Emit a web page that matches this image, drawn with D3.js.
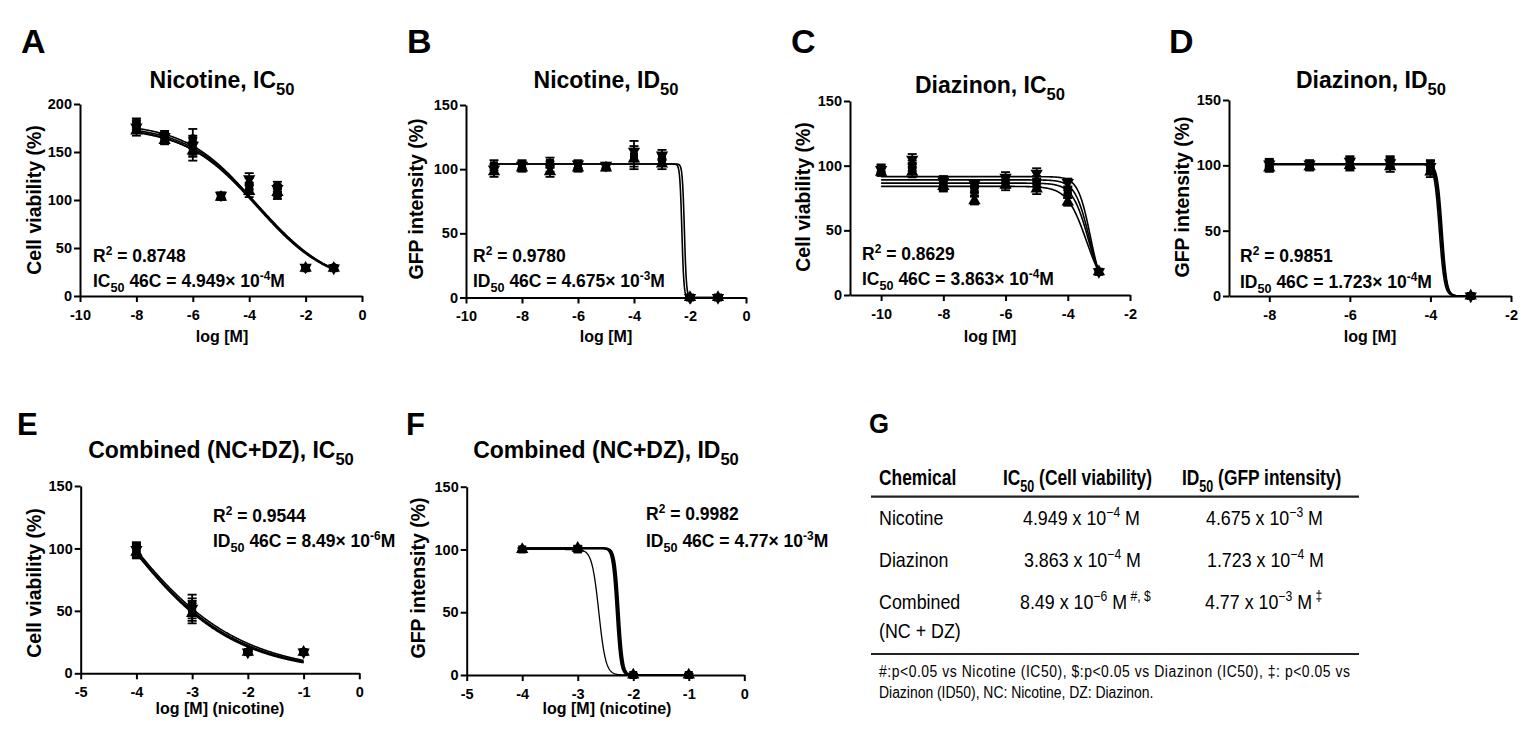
<!DOCTYPE html>
<html><head><meta charset="utf-8">
<script src="https://cdn.jsdelivr.net/npm/d3@7"></script>
<style>
html,body{margin:0;padding:0;background:#fff;}
svg{display:block;}
text{font-family:"Liberation Sans",Arial,sans-serif;fill:#000;}
</style></head>
<body>
<svg id="chart" width="1535" height="732"></svg>
<script>
// ---------------- DATA ----------------
// Panel A: Nicotine, IC50 (cell viability %)
const xA = [-8, -7, -6, -5, -4, -3, -2, -1];
const aSquare = [180, 168, 155, 104, 112, 105, 29, 29];
const aTriUp = [172, 162, 151, 103, 109, 108, 29, 29];
const aTriDown = [176, 166, 157, 105, 122, 112, 30, 29];
const aCircle = [178, 165, 164, 104, 117, 115, 29, 30];
const aErr = [5, 4, 10, 3, 6, 4, 2, 2];
const aCurves = [[178, 10, -3.69, 0.34], [176, 8, -3.62, 0.33], [180, 12, -3.76, 0.35], [177, 9, -3.72, 0.335]];

// Panel B: Nicotine, ID50 (GFP intensity %)
const xB = [-9, -8, -7, -6, -5, -4, -3, -2, -1];
const bSquare = [103, 104, 105, 103, 102, 110, 108, 0, 0];
const bTriUp = [98, 101, 98, 101, 101, 108, 104, 0, 0];
const bTriDown = [100, 103, 102, 104, 103, 114, 111, 0, 0];
const bErr = [4, 3, 4, 3, 2, 8, 4, 1, 1];
const bCurves = [[104, 0, -2.29, 12], [104, 0, -2.20, 12]];

// Panel C: Diazinon, IC50 (cell viability %)
const xC = [-10, -9, -8, -7, -6, -5, -4, -3];
const cSquare = [98, 100, 87, 82, 88, 85, 80, 18];
const cTriUp = [95, 95, 84, 73, 85, 82, 72, 18];
const cTriDown = [97, 105, 88, 86, 91, 94, 87, 18];
const cCircle = [96, 98, 85, 80, 87, 88, 78, 18];
const cErr = [3, 4, 4, 3, 4, 4, 3, 2];
const cCurves = [[91.5, 0, -3.278, 2.2], [89, 0, -3.313, 1.9], [86.5, 0, -3.342, 1.7], [84, 0, -3.403, 1.4]];

// Panel D: Diazinon, ID50 (GFP intensity %)
const xD = [-8, -7, -6, -5, -4, -3];
const dSquare = [102, 100, 101, 103, 100, 0];
const dTriUp = [98, 99, 100, 99, 95, 0];
const dTriDown = [101, 101, 103, 102, 99, 0];
const dCircle = [100, 100, 102, 101, 97, 0];
const dErr = [3, 3, 4, 4, 4, 1];
const dCurves = [[101, 0, -3.78, 7], [101, 0, -3.75, 7], [101, 0, -3.73, 7], [100.5, 0, -3.71, 7.5]];

// Panel E: Combined (NC+DZ), IC50 (cell viability %)
const xE = [-4, -3, -2, -1];
const eSquare = [100, 55, 17, 17];
const eTriUp = [97, 48, 17, 17];
const eTriDown = [99, 52, 17, 17];
const eCircle = [98, 50, 17, 17];
const eErr = [5, 8, 1, 1];
const eCurves = [[250, 0, -4.49, 0.404], [240, 0, -4.42, 0.42], [260, 0, -4.55, 0.39], [245, 0, -4.46, 0.41]];

// Panel F: Combined (NC+DZ), ID50 (GFP intensity %)
const xF = [-4, -3, -2, -1];
const fSquare = [100, 100, 0, 0];
const fTriUp = [100, 101, 0, 0];
const fErr = [1, 2, 1, 1];
const fCurves = [[100, 0, -2.62, 7], [101, 0, -2.30, 12], [101, 0, -2.28, 12], [101, 0, -2.26, 12]];

// Panel G: table
const tableChemicals = [["Nicotine"], ["Diazinon"], ["Combined", "(NC + DZ)"]];
const tableIC50 = [["4.949 x 10", "\u22124", " M", ""], ["3.863 x 10", "\u22124", " M", ""], ["8.49 x 10", "\u22126", " M", " #, $"]];
const tableID50 = [["4.675 x 10", "\u22123", " M", ""], ["1.723 x 10", "\u22124", " M", ""], ["4.77 x 10", "\u22123", " M", " \u2021"]];
const footnoteLines = ["#:p<0.05 vs Nicotine (IC50), $:p<0.05 vs Diazinon (IC50), \u2021: p<0.05 vs", "Diazinon (ID50), NC: Nicotine, DZ: Diazinon."];

// ---------------- DRAWING ----------------
const svg = d3.select("#chart");

function rich(g, x, y, parts, size, opts = {}) {
  const t = g.append("text")
    .attr("font-size", size).attr("font-weight", opts.weight || "bold")
    .attr("text-anchor", opts.anchor || "start");
  if (opts.transform) t.attr("transform", opts.transform);
  else if (opts.sx) t.attr("transform", `translate(${x},${y}) scale(${opts.sx},1)`);
  else t.attr("x", x).attr("y", y);
  let shift = 0;
  parts.forEach(p => {
    let target = 0, fs = size;
    if (p.sub) { target = size * 0.3; fs = size * 0.72; }
    if (p.sup) { target = -size * 0.38; fs = size * 0.68; }
    t.append("tspan").attr("dy", target - shift).attr("font-size", fs).text(p.t);
    shift = target;
  });
  return t;
}

const markerTypes = {
  square: d3.symbol().type(d3.symbolSquare).size(64),
  triUp: d3.symbol().type(d3.symbolTriangle).size(66),
  triDown: d3.symbol().type(d3.symbolTriangle).size(66),
  circle: d3.symbol().type(d3.symbolCircle).size(58)
};

function panel(cfg) {
  const g = svg.append("g");
  const x = d3.scaleLinear().domain(cfg.xDomain).range(cfg.xRange);
  const y = d3.scaleLinear().domain(cfg.yDomain).range(cfg.yRange);

  // curves
  const line = d3.line().x(d => x(d[0])).y(d => y(d[1])).curve(d3.curveLinear);
  cfg.curves.forEach((c, i) => {
    const [top, bottom, logEC, hill] = c;
    const n = 400;
    const pts = d3.range(n + 1).map(k => {
      const xv = cfg.curveX[0] + (cfg.curveX[1] - cfg.curveX[0]) * k / n;
      return [xv, bottom + (top - bottom) / (1 + Math.pow(10, (xv - logEC) * hill))];
    });
    g.append("path").attr("d", line(pts)).attr("fill", "none").attr("stroke", "#000")
      .attr("stroke-width", cfg.curveWidths ? cfg.curveWidths[i] : 1.6);
  });

  // axes
  const ax = d3.axisBottom(x).tickValues(cfg.xTicks).tickSize(6).tickPadding(7.5).tickSizeOuter(0)
    .tickFormat(d => String(d));
  const ay = d3.axisLeft(y).tickValues(cfg.yTicks).tickSize(6).tickPadding(2).tickSizeOuter(0)
    .tickFormat(d => String(d));
  const gx = g.append("g").attr("transform", `translate(0,${cfg.yRange[0]})`).call(ax);
  const gy = g.append("g").attr("transform", `translate(${cfg.xRange[0]},0)`).call(ay);
  [gx, gy].forEach(a => {
    a.select(".domain").attr("stroke", "#000").attr("stroke-width", 2);
    a.selectAll(".tick line").attr("stroke", "#000").attr("stroke-width", 2);
    a.selectAll(".tick text").attr("font-size", 14.5).attr("font-weight", "bold")
      .attr("font-family", '"Liberation Sans",Arial,sans-serif').attr("fill", "#000");
  });

  // error bars + markers
  cfg.series.forEach(s => {
    cfg.xs.forEach((xv, i) => {
      const v = s.values[i], e = s.err[i];
      const px = x(xv);
      g.append("line").attr("x1", px).attr("x2", px).attr("y1", y(v - e)).attr("y2", y(v + e))
        .attr("stroke", "#000").attr("stroke-width", 1.8);
      [v - e, v + e].forEach(ev => g.append("line").attr("x1", px - 4.5).attr("x2", px + 4.5)
        .attr("y1", y(ev)).attr("y2", y(ev)).attr("stroke", "#000").attr("stroke-width", 1.8));
      g.append("path").attr("d", markerTypes[s.type]())
        .attr("transform", `translate(${px},${y(v)})` + (s.type === "triDown" ? " rotate(180)" : ""))
        .attr("fill", "#000");
    });
  });

  // labels
  rich(g, cfg.letter[1], cfg.letter[2], [{t: cfg.letter[0]}], cfg.letter[3]);
  rich(g, cfg.title[1], cfg.title[2], cfg.title[0], 23, {anchor: "middle"});
  rich(g, 0, 0, [{t: cfg.yLabel[0]}], 19.5, {anchor: "middle",
    transform: `translate(${cfg.yLabel[1]},${cfg.yLabel[2]}) rotate(-90)`});
  rich(g, cfg.xLabel[1], cfg.xLabel[2], [{t: cfg.xLabel[0]}], 16, {anchor: "middle"});
  rich(g, cfg.ann[0], cfg.ann[1], cfg.annLine1, 17.5);
  rich(g, cfg.ann[0], cfg.ann[2], cfg.annLine2, 17.5);
}

const sers = (types, arrs, err) => types.map((t, i) => ({type: t, values: arrs[i], err}));

panel({
  xDomain: [-10, 0], xRange: [80, 362], yDomain: [0, 200], yRange: [296, 104],
  xTicks: [-10, -8, -6, -4, -2, 0], yTicks: [0, 50, 100, 150, 200],
  curves: aCurves, curveX: [-8, -1], xs: xA,
  series: sers(["square", "triUp", "triDown", "circle"], [aSquare, aTriUp, aTriDown, aCircle], aErr),
  letter: ["A", 21, 53, 34],
  title: [[{t: "Nicotine, IC"}, {t: "50", sub: true}], 222, 88],
  yLabel: ["Cell viability (%)", 41, 200], xLabel: ["log [M]", 222, 342],
  ann: [93, 262, 287],
  annLine1: [{t: "R"}, {t: "2", sup: true}, {t: " = 0.8748"}],
  annLine2: [{t: "IC"}, {t: "50", sub: true}, {t: " 46C = 4.949\u00d7 10"}, {t: "-4", sup: true}, {t: "M"}]
});

panel({
  xDomain: [-10, 0], xRange: [466, 746], yDomain: [0, 150], yRange: [297.5, 105],
  xTicks: [-10, -8, -6, -4, -2, 0], yTicks: [0, 50, 100, 150],
  curves: bCurves, curveX: [-9, -1], xs: xB,
  series: sers(["square", "triUp", "triDown"], [bSquare, bTriUp, bTriDown], bErr),
  letter: ["B", 407, 53, 34],
  title: [[{t: "Nicotine, ID"}, {t: "50", sub: true}], 606, 88],
  yLabel: ["GFP intensity (%)", 423, 199], xLabel: ["log [M]", 606, 342],
  ann: [473, 262, 287],
  annLine1: [{t: "R"}, {t: "2", sup: true}, {t: " = 0.9780"}],
  annLine2: [{t: "ID"}, {t: "50", sub: true}, {t: " 46C = 4.675\u00d7 10"}, {t: "-3", sup: true}, {t: "M"}]
});

panel({
  xDomain: [-11, -2], xRange: [850, 1130], yDomain: [0, 150], yRange: [295, 101],
  xTicks: [-10, -8, -6, -4, -2], yTicks: [0, 50, 100, 150],
  curves: cCurves, curveX: [-10, -3], xs: xC,
  series: sers(["square", "triUp", "triDown", "circle"], [cSquare, cTriUp, cTriDown, cCircle], cErr),
  letter: ["C", 791, 53, 34],
  title: [[{t: "Diazinon, IC"}, {t: "50", sub: true}], 990, 93],
  yLabel: ["Cell viability (%)", 810, 197], xLabel: ["log [M]", 990, 342],
  ann: [862, 260, 285],
  annLine1: [{t: "R"}, {t: "2", sup: true}, {t: " = 0.8629"}],
  annLine2: [{t: "IC"}, {t: "50", sub: true}, {t: " 46C = 3.863\u00d7 10"}, {t: "-4", sup: true}, {t: "M"}]
});

panel({
  xDomain: [-9, -2], xRange: [1229, 1511], yDomain: [0, 150], yRange: [296, 100],
  xTicks: [-8, -6, -4, -2], yTicks: [0, 50, 100, 150],
  curves: dCurves, curveX: [-8, -3], xs: xD,
  series: sers(["square", "triUp", "triDown", "circle"], [dSquare, dTriUp, dTriDown, dCircle], dErr),
  letter: ["D", 1169, 53, 34],
  title: [[{t: "Diazinon, ID"}, {t: "50", sub: true}], 1371, 88],
  yLabel: ["GFP intensity (%)", 1189, 197], xLabel: ["log [M]", 1370, 342],
  ann: [1240, 262, 288],
  annLine1: [{t: "R"}, {t: "2", sup: true}, {t: " = 0.9851"}],
  annLine2: [{t: "ID"}, {t: "50", sub: true}, {t: " 46C = 1.723\u00d7 10"}, {t: "-4", sup: true}, {t: "M"}]
});

panel({
  xDomain: [-5, 0], xRange: [80.7, 359.3], yDomain: [0, 150], yRange: [673.3, 486],
  xTicks: [-5, -4, -3, -2, -1, 0], yTicks: [0, 50, 100, 150],
  curves: eCurves, curveX: [-4, -1], xs: xE,
  series: sers(["square", "triUp", "triDown", "circle"], [eSquare, eTriUp, eTriDown, eCircle], eErr),
  letter: ["E", 17, 435, 31],
  title: [[{t: "Combined (NC+DZ), IC"}, {t: "50", sub: true}], 221, 458],
  yLabel: ["Cell viability (%)", 41, 583], xLabel: ["log [M] (nicotine)", 220, 714],
  ann: [213, 521.7, 546.7],
  annLine1: [{t: "R"}, {t: "2", sup: true}, {t: " = 0.9544"}],
  annLine2: [{t: "ID"}, {t: "50", sub: true}, {t: " 46C = 8.49\u00d7 10"}, {t: "-6", sup: true}, {t: "M"}]
});

panel({
  xDomain: [-5, 0], xRange: [466.7, 744.3], yDomain: [0, 150], yRange: [675, 486.7],
  xTicks: [-5, -4, -3, -2, -1, 0], yTicks: [0, 50, 100, 150],
  curves: fCurves, curveX: [-4, -1], curveWidths: [1.3, 2, 2, 2], xs: xF,
  series: sers(["square", "triUp"], [fSquare, fTriUp], fErr),
  letter: ["F", 406, 435, 31],
  title: [[{t: "Combined (NC+DZ), ID"}, {t: "50", sub: true}], 606, 458],
  yLabel: ["GFP intensity (%)", 425, 578], xLabel: ["log [M] (nicotine)", 607, 714],
  ann: [646, 520, 546.7],
  annLine1: [{t: "R"}, {t: "2", sup: true}, {t: " = 0.9982"}],
  annLine2: [{t: "ID"}, {t: "50", sub: true}, {t: " 46C = 4.77\u00d7 10"}, {t: "-3", sup: true}, {t: "M"}]
});

// ---------- Table G ----------
const tg = svg.append("g");
const SXH = 0.79, SXR = 0.85, SXF = 0.87;
rich(tg, 869, 433, [{t: "G"}], 28, {sx: 0.92});
rich(tg, 879, 485, [{t: "Chemical"}], 22, {sx: SXH});
rich(tg, 1003, 485, [{t: "IC"}, {t: "50", sub: true}, {t: " (Cell viability)"}], 22, {sx: SXH});
rich(tg, 1182, 485, [{t: "ID"}, {t: "50", sub: true}, {t: " (GFP intensity)"}], 22, {sx: SXH});
tg.append("line").attr("x1", 871).attr("x2", 1359).attr("y1", 496.7).attr("y2", 496.7)
  .attr("stroke", "#222").attr("stroke-width", 2.2);
const rowY = [525, 566.7, 609.3];
const icX = [1023, 1024, 1020];
const idX = [1206, 1207, 1205];
tableChemicals.forEach((c, i) => {
  c.forEach((line, j) => rich(tg, 879, rowY[i] + j * 29, [{t: line}], 21, {sx: SXR, weight: "normal"}));
  const ic = tableIC50[i], id = tableID50[i];
  rich(tg, icX[i], rowY[i], [{t: ic[0]}, {t: ic[1], sup: true}, {t: ic[2]}, {t: ic[3], sup: true}], 21, {sx: SXR, weight: "normal"});
  rich(tg, idX[i], rowY[i], [{t: id[0]}, {t: id[1], sup: true}, {t: id[2]}, {t: id[3], sup: true}], 21, {sx: SXR, weight: "normal"});
});
tg.append("line").attr("x1", 871).attr("x2", 1359).attr("y1", 654).attr("y2", 654)
  .attr("stroke", "#222").attr("stroke-width", 2.2);
tg.append("text").attr("transform", `translate(879,676.7) scale(${SXF},1)`).attr("font-size", 16)
  .attr("textLength", 471 / SXF).attr("lengthAdjust", "spacing").text(footnoteLines[0]);
tg.append("text").attr("transform", `translate(879,698) scale(${SXF},1)`).attr("font-size", 16)
  .text(footnoteLines[1]);
</script>
</body></html>
